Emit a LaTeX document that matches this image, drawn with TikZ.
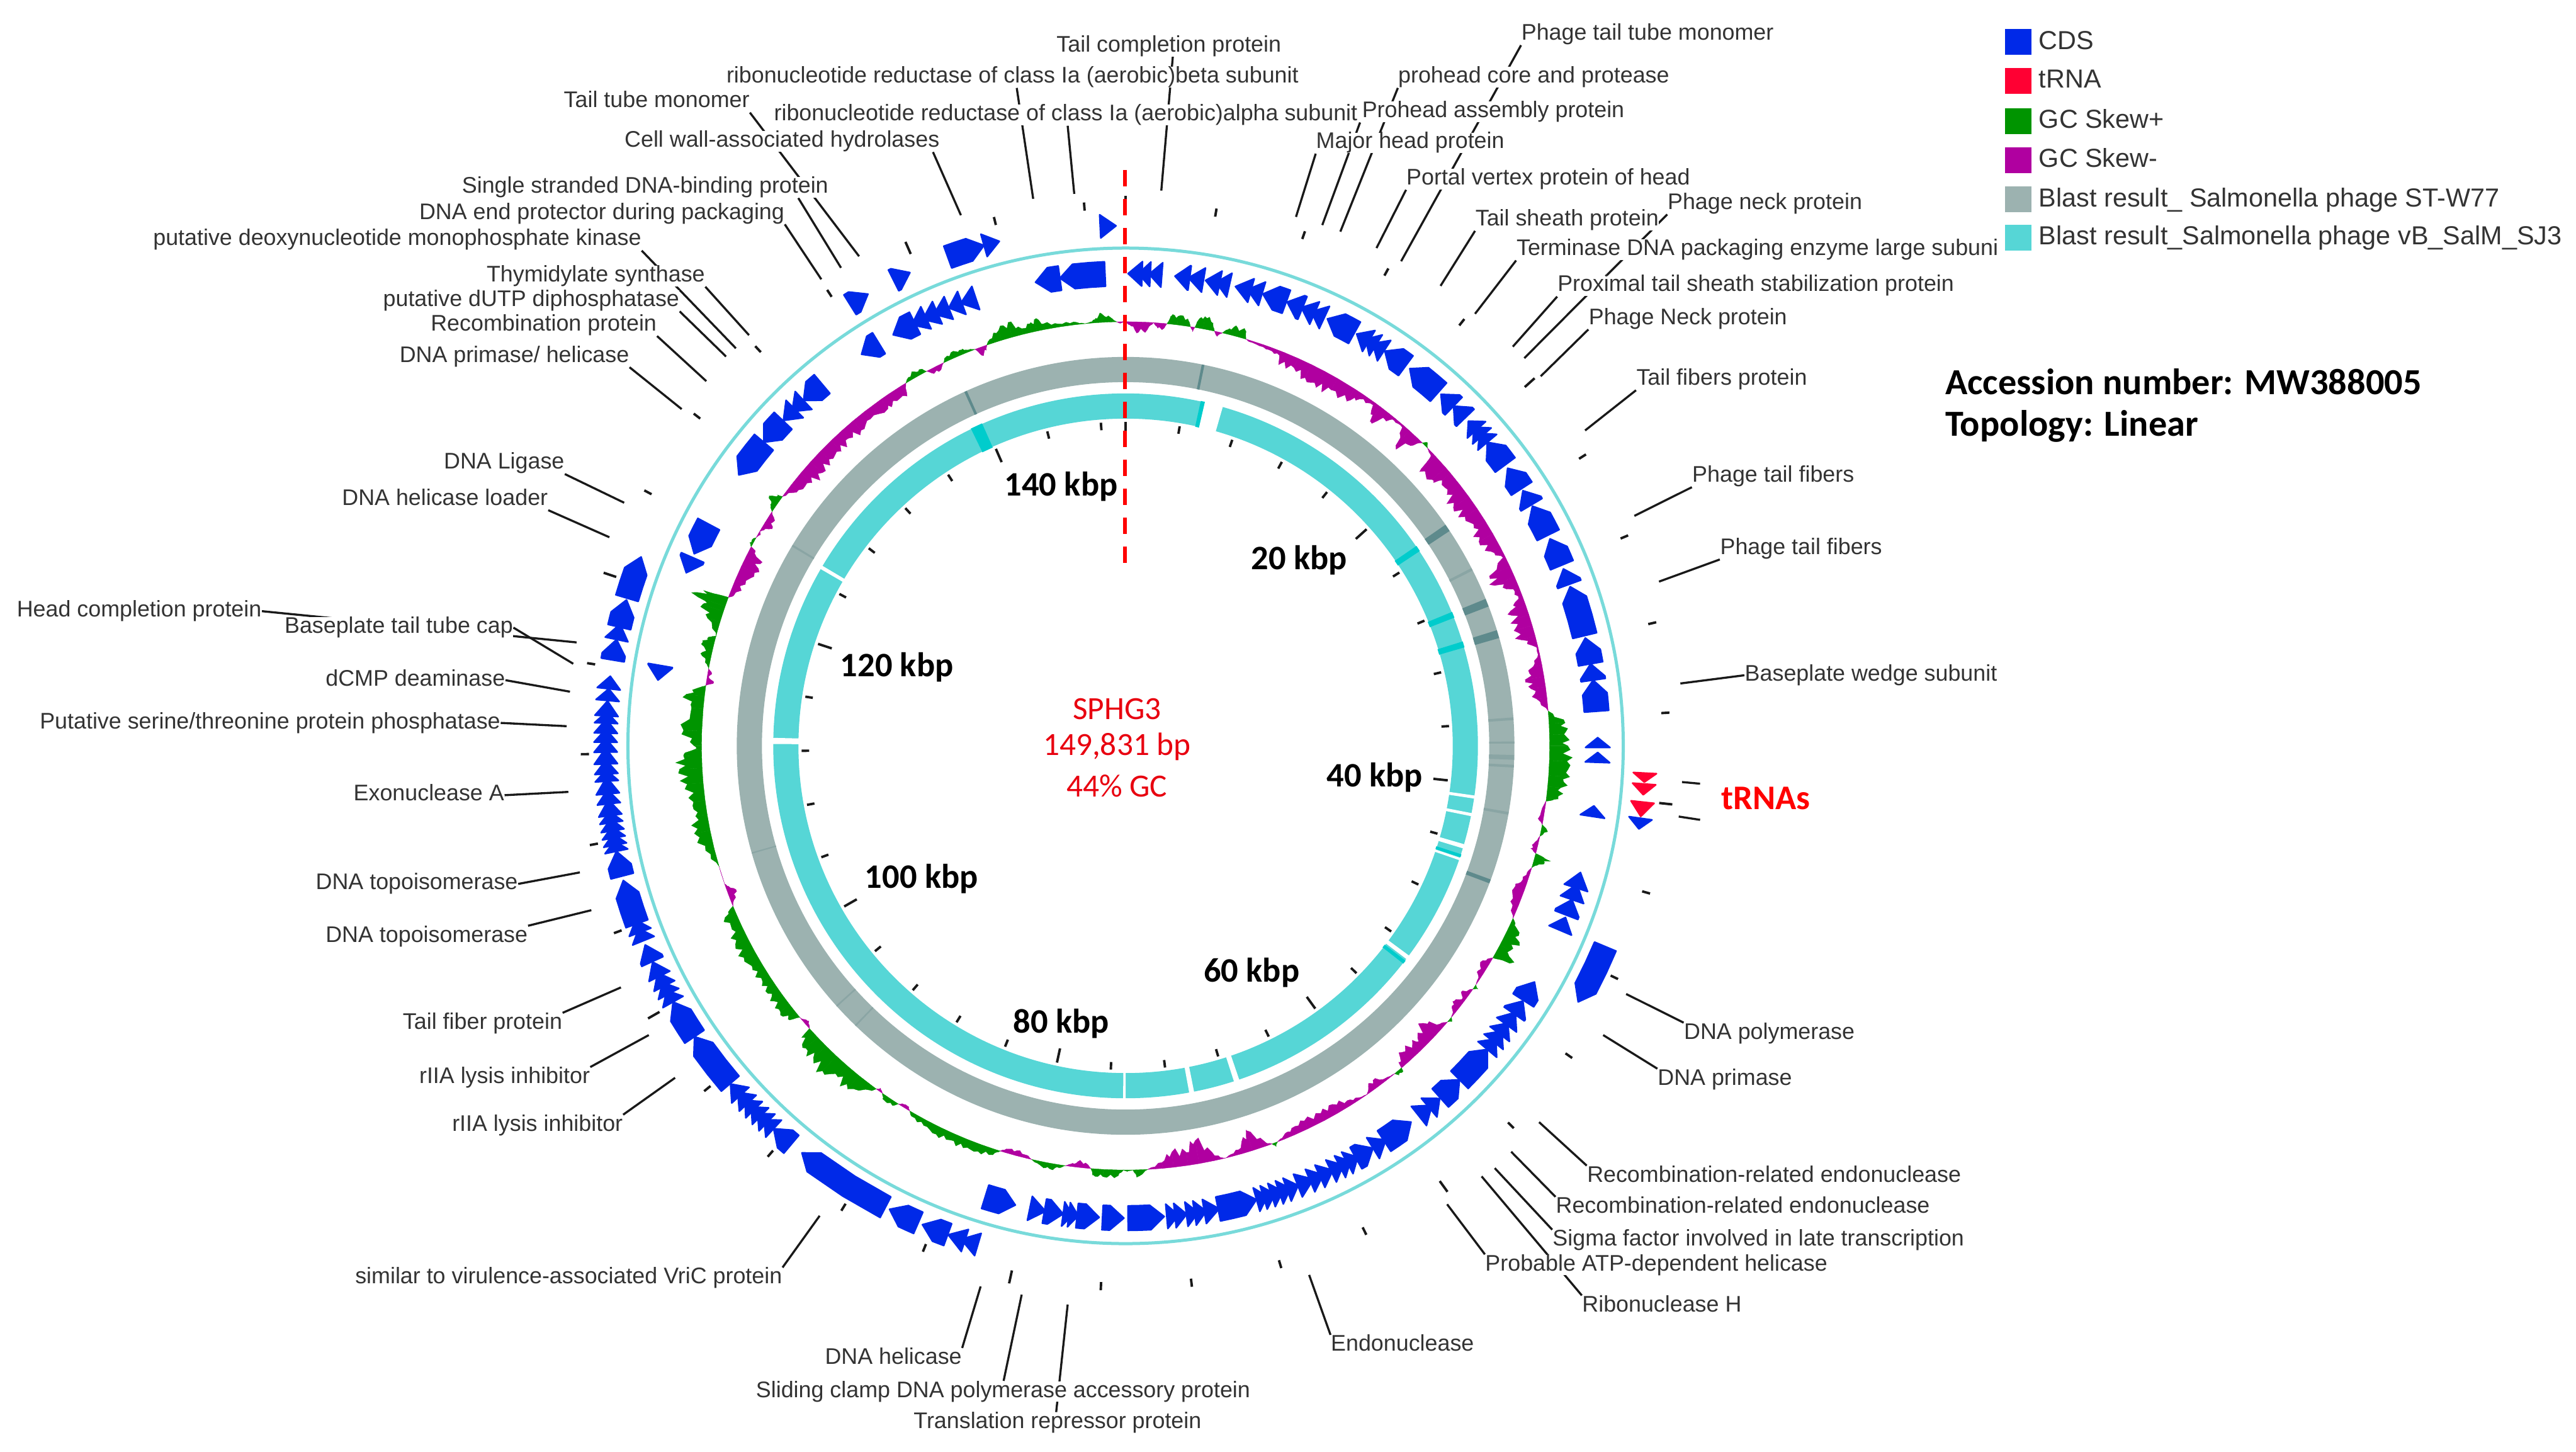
\documentclass[tikz,border=0pt]{standalone}
\usepackage{fontspec}
\setmainfont{Liberation Sans}
\newfontfamily\carl{Carlito}
\usetikzlibrary{backgrounds}
\definecolor{cdsblue}{HTML}{0029E8}
\definecolor{trnared}{HTML}{FF0033}
\definecolor{skewplus}{HTML}{009400}
\definecolor{skewminus}{HTML}{B000A0}
\definecolor{ringgrey}{HTML}{9CB2B0}
\definecolor{ringcyan}{HTML}{56D6D6}
\definecolor{thincyan}{HTML}{78DADA}
\definecolor{darkcyan}{HTML}{00CCCC}
\definecolor{darkgrey}{HTML}{5E8A8C}
\definecolor{fadegrey}{HTML}{8AA5A4}
\definecolor{labgrey}{HTML}{333333}
\definecolor{centerred}{HTML}{E8000F}
\tikzset{
  lab/.style={anchor=west,inner sep=0pt,fill=white,text=labgrey,text height=7.2pt,text depth=2.1pt,font=\fontsize{10.2}{12}\selectfont},
  leg/.style={anchor=west,inner sep=0pt,text=labgrey,text height=8.6pt,text depth=2.6pt,font=\fontsize{11.78}{14}\selectfont},
  legsq/.style={minimum width=.42cm,minimum height=.41cm,inner sep=0pt,anchor=west},
  kbp/.style={inner sep=0pt,font=\carl\bfseries\fontsize{15.5}{18}\selectfont},
  mid/.style={inner sep=0pt,text=centerred,font=\carl\fontsize{14.6}{17}\selectfont},
  acc/.style={anchor=west,inner sep=0pt,font=\carl\bfseries\fontsize{16.6}{19}\selectfont},
  leader/.style={draw=black!90,line width=.95pt},
  tick/.style={draw=black!90,line width=1.1pt},
}
\def\gXtra{.45}
% a gene arrow, angles clockwise from the top: a1 a2 rin rout dir colour
\newcommand\gene[6]{%
  \pgfmathsetmacro\gLn{#2-#1}%
  \pgfmathsetmacro\gHd{min(1.7,\gLn)}%
  \pgfmathsetmacro\gEx{\gLn<1.7?\gXtra:0}%
  \pgfmathsetmacro\gRm{(#3+#4)/2}%
  \pgfmathsetmacro\gTl{#5>0?#1:#2}%
  \pgfmathsetmacro\gAp{#5>0?#2:#1}%
  \pgfmathsetmacro\gSh{\gAp-(#5)*\gHd}%
  \pgfmathsetmacro\gMd{(\gTl+\gSh)/2}%
  \pgfmathsetmacro\gTp{\gAp+(#5)*\gEx}%
  \filldraw[#6,line width=.7pt,line join=round] ({90-\gTl}:#3) -- ({90-\gMd}:#3) -- ({90-\gSh}:#3) -- ({90-\gTp}:\gRm)
     -- ({90-\gSh}:#4) -- ({90-\gMd}:#4) -- ({90-\gTl}:#4) -- cycle;
}
\newcommand\gi[2]{\gene{#1}{#2}{731}{770}{-1}{cdsblue}}
\newcommand\gou[2]{\gene{#1}{#2}{808}{845}{1}{cdsblue}}
\newcommand\band[5]{\fill[#5] ({90-(#1)}:#3) -- ({90-(#2)}:#3) -- ({90-(#2)}:#4) -- ({90-(#1)}:#4) -- cycle;}
% label with a leader to a node corner
\newcommand\ldr[4]{\coordinate (#1) at (#2,#3); \draw[leader] (#1) -- (#4);}
\newcommand\ldx[5]{\coordinate (#1) at (#2,#3); \draw[leader] (#1) -- (#5,0 |- #4);}
\begin{document}
\begin{tikzpicture}
\useasboundingbox (0,0) rectangle (40.92,-23.05);
%--------------- circular map, in reference pixels
\begin{scope}[shift={(17.88,-11.845)},x=.01cm,y=.01cm]
  % blast rings
  \draw[ringgrey,line width=.4cm] (0,0) circle (598);
  \draw[ringcyan,line width=.4cm] (0,0) circle (540);
  \foreach \a/\w in {63/.2,86/.2,89.5/.15,93/.2,100/.2,91.7/.35,254/.1,228/.12,224/.12,301/.15}
    {\band{\a-\w}{\a+\w}{578}{618}{fadegrey}}
  \foreach \a/\w in {11.5/.2,55.9/.55,68.4/.6,73.3/.6,110.4/.3,335.7/.2}
    {\band{\a-\w}{\a+\w}{578}{618}{darkgrey}}
  \foreach \a/\b in {12.3/13,55.5/56.5,67.7/68.7,72.8/73.8,334/336,107.9/108.4,127.5/128.1}
    {\band{\a}{\b}{519}{561}{darkcyan}}
  \foreach \a/\b in {13/16,98.1/98.6,101/101.5,106.2/106.9,108.5/108.9,126.5/127.2,161.2/162.1,168.8/169.6,180/180.4,270.3/271.3,300.1/300.7}
    {\band{\a}{\b}{518}{562}{white}}
  % thin circle
  \draw[thincyan,line width=.05cm] (0,0) circle (791);
  % GC skew
  \gdef\pa{0}\gdef\ph{0}
  \foreach \a/\h in {0/0,.8/-6,1.8/-14,3/-10,3.8/0,4.4/-7,5.2/-7,5.6/0,6/10,7/12,8.3/10,8.8/0,9.2/-6,9.4/0,9.6/8,10.5/17,11.7/10,12.1/0,12.6/-6,13.2/0,14/8,15/12,16.2/10,16.5/0,17/-2,19/-3,20/-4,21.5/-6,22/-17,24/-14,26/-20,28/-25,30/-18,32.7/-20,34/-8,36/-4,37/-24,38.5/-10,39.5/-3,41/-3,42/-28,43.5/-14,44.4/0,44.9/5,45.4/0,46.5/-4,47/-30,49/-25,50/-15,52/-22,54/-26,56/-20,58/-18,60/-22,62/-14,63.5/-3,65/-31,66.5/-30,68/-8,69.5/-6,70.7/-22,72/-20,73.5/-26,75/-20,76.5/-2,77.5/-2,79/-12,80.6/-26,82/-20,83.5/-14,85.3/0,87/22,88.5/20,90/25,92/24,94/29,95.5/18,97/16,97.5/0,98/-2,100/-7,100.7/0,101.5/9,102.3/0,103.5/-6,104.2/-8,104.7/0,105.2/22,106/8,106.7/0,107.5/-4,109/-8,110/-14,112/-12,113.5/-3,114/0,115/10,116.5/22,118/16,119.5/24,120/0,121/-10,122.5/-8,123.5/-2,124.3/0,124.6/5,125/0,126/-10,127/-4,128/-12,129/-4,129.8/0,130.2/4,130.6/0,131.5/-6,133/-24,135/-15,136/-15,138/-16,139.2/-8,139.4/0,139.6/5,140.3/5,140.6/0,142/-3,143.5/-11,144.5/-8,145.3/0,146.5/-3,148/-8,150/-14,152/-11,154.5/-12,156.5/-10,158/-4,159/0,159.4/5,159.8/0,160.5/-4,162.6/-29,164/-8,165.5/-3,166.3/0,167/-2,168/-12,170/-32,171.5/-18,173.5/-21,175/-8,177/0,178.5/10,179/0,179.8/2,180.3/0,181/8,183/10,184.4/8,184.7/0,185.5/-7,186.5/-8,187.5/-3,188.2/0,189/4,190/8,191/8,192.8/0,193.5/-4,195/-7,196.5/-5,197.2/0,198/8,200/10,202/13,204/10,206/11,208/8,210/5,210.6/0,211/-4,212/-3,212.4/0,213/6,214.5/6,215/0,215.6/-4,216/0,216.5/6,219/24,221/20,223/28,225/24,226.6/22,228/16,228.2/0,229/-6,229.8/-1,230.2/0,231/14,232.4/16,234/14,235.3/15,237/12,239/15,241/17,243/19,245/14,246.8/16,247.8/0,248.5/-4,249.5/-12,250.5/-4,251/0,253.5/0,256/12,258.5/22,260.7/16,262.6/16,265/22,267/31,268.7/25,269.5/10,270/10,272/25,275/16,276.7/25,278/4,278.2/0,278.7/-10,279.4/-2,280/-5,280.5/0,281/3,282/12,283/10,284/16,284.8/5,285/0,285.5/2,287/18,288.5/30,289.2/40,290.2/35,290.5/0,291/-6,293/-15,295/-20,296.5/-22,297.7/-8,298/0,298.4/4,299/3,299.4/0,300/-3,300.4/0,300.8/-4,301.8/-12,303/-6,303.5/0,304/5,304.8/14,305.8/6,306/0,306.5/-3,308/-12,310/-20,312/-22,314/-16,316/-20,318/-14,320/-17,322/-13,324.8/-16,326/-11,328/-16,328.8/0,329.5/5,330.5/8,331.5/6,332/0,332.5/-5,333.5/-8,334.2/-3,334.6/0,335/5,336.4/9,337.5/6,338/4,339.2/0,339.8/-11,340.6/-6,340.9/0,341.5/6,343/14,344.5/21,346/8,347.2/12,347.9/16,349/8,351/4,353/4,354.5/0,355.5/2,356/6,356.8/12,358/6,358.8/0,359.3/-2,360/0}{%
    \pgfmathsetmacro\sA{\a}\pgfmathsetmacro\sH{1.15*\h}%
    \pgfmathtruncatemacro\sC{(\sH+\ph>0)?1:0}%
    % three jagged points between two read values
    \pgfmathsetmacro\sAa{\pa+.25*(\sA-\pa)}\pgfmathsetmacro\sAb{\pa+.5*(\sA-\pa)}\pgfmathsetmacro\sAc{\pa+.75*(\sA-\pa)}%
    \pgfmathsetmacro\sHa{(.75*\ph+.25*\sH)*(1+.3*sin(mod(\sAa*10,12)*30))}%
    \pgfmathsetmacro\sHb{(.5*\ph+.5*\sH)*(1+.3*sin(mod(\sAb*10,12)*30))}%
    \pgfmathsetmacro\sHc{(.25*\ph+.75*\sH)*(1+.3*sin(mod(\sAc*10,12)*30))}%
    \ifnum\sC=1 \def\sCol{skewplus}\else\def\sCol{skewminus}\fi
    \filldraw[\sCol,line width=.12pt] ({90-\pa}:674) -- ({90-\pa}:{674+\ph}) -- ({90-\sAa}:{674+\sHa}) -- ({90-\sAb}:{674+\sHb}) -- ({90-\sAc}:{674+\sHc})
       -- ({90-\sA}:{674+\sH}) -- ({90-\sA}:674) -- cycle;
    \global\let\pa\sA\global\let\ph\sH
  }
  % inner CDS track
  \foreach \a/\b in {.3/2,2/3,3.3/4.4,6/7.8,8.1/9.5,10.2/11.5,11.5/12.7,13.9/15.4,15.4/16.8,16.9/19.9,20/22,22.3/23.6,23.6/24.9,25.3/29,29.3/31,31/32,32/33.2,33.3/36.4,37/41.5,41.9/44,44/46,47/48,48/49,49/50,50/53.5,54/57,57.3/59.3,59.5/63.5,64/67.5,68/70,70.3/76.5,76.8/80,80/82,82/85.8,106/107.5,107.5/109,109/111,111.3/113,120/122.6,122.7/124.6,124.8/126.2,126.4/127.6,127.6/128.8,128.8/130,130/135,135/138.2,138.3/140,140/141.6,142.8/146.8,147/148.4,148.4/150.8,151/152,152/153,153/154.2,154.4/155.7,155.7/157,157/158.6,159/160,160/161,161/162,162/163,163/163.9,163.9/168.7,169/170.4,170.6/171.6,171.6/172.6,173/174,174/175,175.3/179.7,180.2/182.8,183.2/185.9,186.2/186.9,186.9/187.6,187.6/189.9,190.2/191.7,193.5/197.3,291.5/293.5,294/298,305/310,310/313.5,314/315.5,315.5/317,317/320,326/328.5,330.5/333.5,333.5/335,335/336.5,336.5/338,338/339.7,340/341.5,349/352,352/357.5}{\gi{\a}{\b}}
  \foreach \a/\b in {89/90.2,90.8/92,97.3/98.6,278/279.8}{\def\gXtra{0}\gi{\a}{\b}}
  % outer CDS track
  \foreach \a/\b in {112.7/119.5,196.5/198,198/199.5,200/203,203.5/207,207.5/218.5,220/222.6,222.6/223.6,223.6/224.6,224.6/225.6,225.6/226.6,226.6/227.8,227.8/229,229.5/236,236/240.5,240.5/241.5,241.5/242.5,242.5/243.7,243.7/245,245.5/247.5,248/249,249/250,250/255,255.5/258.3,258.3/259,259/259.8,259.8/260.6,260.6/261.5,261.5/262.3,262.3/263.6,263.6/264.7,264.7/266.1,266.1/266.9,266.9/268,268/269.3,269.3/270.4,270.4/271.4,271.4/272.5,272.5/273.3,273.3/274.5,279.5/281.8,281.8/283.1,283.2/286.3,286.5/291.3,328/330.3,333.5/335.5,340/344.2,344.2/345.5,357.2/358.5}{\gou{\a}{\b}}
  \foreach \a/\b in {98/99.2,275/276.3,276.3/277.7}{\def\gXtra{0}\gou{\a}{\b}}
  \foreach \a/\b in {93/94,94.2/95.4,96.2/97.8}{\def\gXtra{0}\gene{\a}{\b}{808}{845}{1}{trnared}}
  % ticks, every 4 kbp
  \foreach \k in {0,...,37}{%
    \pgfmathsetmacro\tA{\k*9.6114}%
    \pgfmathtruncatemacro\tM{mod(\k,5)}%
    \ifnum\tM=0
      \draw[tick] ({90-\tA}:492) -- ({90-\tA}:515);
      \draw[tick] ({90-\tA}:853) -- ({90-\tA}:874);
    \else
      \draw[tick] ({90-\tA}:503) -- ({90-\tA}:515);
      \draw[tick] ({90-\tA}:853) -- ({90-\tA}:866);
    \fi
  }
\end{scope}
%--------------- everything else, in units of 1/2.6097 reference pixel
\begin{scope}[x=.026097cm,y=-.026097cm,yshift=-.026cm]
  \coordinate (dashA) at (685,102.5);
  \coordinate (dashB) at (685,349);
  \draw[red,line width=1.7pt,dash pattern=on .26cm off .2cm] (dashA) -- (dashB);
  % labels
  \node[lab] (tc) at (643,27) {Tail completion protein};
  \node[lab] (rb) at (442,46) {ribonucleotide reductase of class Ia (aerobic)beta subunit};
  \node[lab] (ra) at (471,69) {ribonucleotide reductase of class Ia (aerobic)alpha subunit};
  \node[lab] (ttm) at (343,61) {Tail tube monomer};
  \node[lab] (cw) at (380,85) {Cell wall-associated hydrolases};
  \node[lab] (ss) at (281,113) {Single stranded DNA-binding protein};
  \node[lab] (de) at (255,129) {DNA end protector during packaging};
  \node[lab] (pk) at (93,145) {putative deoxynucleotide monophosphate kinase};
  \node[lab] (tsy) at (296,167) {Thymidylate synthase};
  \node[lab] (du) at (233,182) {putative dUTP diphosphatase};
  \node[lab] (rp) at (262,197) {Recombination protein};
  \node[lab] (dp) at (243,216) {DNA primase/ helicase};
  \node[lab] (dl) at (270,281) {DNA Ligase};
  \node[lab] (dhl) at (208,303) {DNA helicase loader};
  \node[lab] (hc) at (10,371) {Head completion protein};
  \node[lab] (bt) at (173,381) {Baseplate tail tube cap};
  \node[lab] (dc) at (198,413) {dCMP deaminase};
  \node[lab] (ps) at (24,439) {Putative serine/threonine protein phosphatase};
  \node[lab] (ex) at (215,483) {Exonuclease A};
  \node[lab] (toa) at (192,537) {DNA topoisomerase};
  \node[lab] (tob) at (198,569) {DNA topoisomerase};
  \node[lab] (tfb) at (245,622) {Tail fiber protein};
  \node[lab] (ra1) at (255,655) {rIIA lysis inhibitor};
  \node[lab] (ra2) at (275,684) {rIIA lysis inhibitor};
  \node[lab] (vr) at (216,777) {similar to virulence-associated VriC protein};
  \node[lab] (dhc) at (502,826) {DNA helicase};
  \node[lab] (sc) at (460,846) {Sliding clamp DNA polymerase accessory protein};
  \node[lab] (trp) at (556,865) {Translation repressor protein};
  \node[lab] (en) at (810,818) {Endonuclease};
  \node[lab] (rh) at (963,794) {Ribonuclease H};
  \node[lab] (atp) at (904,769) {Probable ATP-dependent helicase};
  \node[lab] (sf) at (945,754) {Sigma factor involved in late transcription};
  \node[lab] (re2) at (947,734) {Recombination-related endonuclease};
  \node[lab] (re1) at (966,715) {Recombination-related endonuclease};
  \node[lab] (dpr) at (1009,656) {DNA primase};
  \node[lab] (dpo) at (1025,628) {DNA polymerase};
  \node[lab] (bw) at (1062,410) {Baseplate wedge subunit};
  \node[lab] (tf2) at (1047,333) {Phage tail fibers};
  \node[lab] (tf1) at (1030,289) {Phage tail fibers};
  \node[lab] (tfp) at (996,230) {Tail fibers protein};
  \node[lab] (pnb) at (967,193) {Phage Neck protein};
  \node[lab] (px) at (948,173) {Proximal tail sheath stabilization protein};
  \node[lab] (tm) at (923,151) {Terminase DNA packaging enzyme large subuni};
  \node[lab] (tsh) at (898,133) {Tail sheath protein};
  \node[lab] (pna) at (1015,123) {Phage neck protein};
  \node[lab] (pv) at (856,108) {Portal vertex protein of head};
  \node[lab] (mh) at (801,86) {Major head protein};
  \node[lab] (pas) at (829,67) {Prohead assembly protein};
  \node[lab] (pco) at (851,46) {prohead core and protease};
  \node[lab] (ptt) at (926,20) {Phage tail tube monomer};
  % leaders under the labels
  \begin{scope}[on background layer]
    \ldx{q1}{707}{115}{tc.south}{714}
    \ldx{q2}{629}{120}{rb.south}{619}
    \ldx{q3}{654}{117}{ra.south}{650}
    \ldr{q4}{523}{155}{ttm.south east}
    \ldx{q5}{585}{130}{cw.south}{568}
    \ldx{q6}{512}{162}{ss.south}{486}
    \ldr{q7}{500}{169}{de.south east}
    \ldr{q8}{448}{211}{pk.south east}
    \ldr{q9}{456}{203}{tsy.south east}
    \ldr{q10}{442}{216}{du.south east}
    \ldr{q11}{430}{231}{rp.south east}
    \ldr{q12}{415}{248}{dp.south east}
    \ldr{q13}{380}{305}{dl.south east}
    \ldr{q14}{371}{326}{dhl.south east}
    \ldr{q15}{351}{390}{hc.east}
    \ldr{q16}{349}{403}{bt.east}
    \ldr{q17}{347}{420}{dc.east}
    \ldr{q18}{345}{441}{ps.east}
    \ldr{q19}{346}{481}{ex.east}
    \ldr{q20}{353}{530}{toa.east}
    \ldr{q21}{360}{553}{tob.north east}
    \ldr{q22}{378}{600}{tfb.north east}
    \ldr{q23}{395}{629}{ra1.north east}
    \ldr{q24}{411}{655}{ra2.north east}
    \ldr{q25}{499}{739}{vr.north east}
    \ldr{q26}{597}{782}{dhc.north east}
    \ldx{q27}{622}{787}{sc.north}{611}
    \ldx{q28}{650}{793}{trp.north}{643}
    \ldr{q29}{797}{775}{en.north west}
    \ldr{q30}{902}{715}{rh.north west}
    \ldr{q31}{881}{732}{atp.north west}
    \ldr{q32}{910}{710}{sf.north west}
    \ldr{q33}{920}{700}{re2.north west}
    \ldr{q34}{937}{682}{re1.north west}
    \ldr{q35}{976}{629}{dpr.north west}
    \ldr{q36}{990}{604}{dpo.north west}
    \ldr{q37}{1023}{415}{bw.west}
    \ldr{q38}{1010}{353}{tf2.south west}
    \ldr{q39}{995}{313}{tf1.south west}
    \ldr{q40}{965}{261}{tfp.south west}
    \ldr{q41}{938}{228}{pnb.south west}
    \ldr{q42}{921}{210}{px.south west}
    \ldr{q43}{928}{217}{pna.south west}
    \ldr{q44}{898}{190}{tm.south west}
    \ldr{q45}{877}{173}{tsh.south west}
    \ldr{q46}{838}{150}{pv.south west}
    \ldr{q47}{789}{131}{mh.south west}
    \ldx{q48}{805}{136}{pas.south}{828}
    \ldr{q49}{816}{140}{pco.south west}
    \ldr{q50}{853}{158}{ptt.south west}
  \end{scope}
  % tRNA
  \node[inner sep=0pt,text=red,font=\carl\bfseries\fontsize{15.6}{18}\selectfont] (trnas) at (1075,485) {tRNAs};
  \coordinate (ta1) at (1024,475); \coordinate (ta2) at (1035,476);
  \coordinate (tb1) at (1022,496); \coordinate (tb2) at (1035,498);
  \draw[leader] (ta1) -- (ta2);
  \draw[leader] (tb1) -- (tb2);
  % kbp labels
  \node[kbp] (k140) at (646,295) {140 kbp};
  \node[kbp] (k20) at (791,340) {20 kbp};
  \node[kbp] (k120) at (546,405) {120 kbp};
  \node[kbp] (k40) at (837,472) {40 kbp};
  \node[kbp] (k100) at (561,534) {100 kbp};
  \node[kbp] (k60) at (762,591) {60 kbp};
  \node[kbp] (k80) at (646,622) {80 kbp};
  % centre
  \node[mid] (c1) at (680,430.5) {SPHG3};
  \node[mid] (c2) at (680,453.5) {149,831 bp};
  \node[mid] (c3) at (680,477.5) {44\% GC};
  % accession
  \node[acc] (a1) at (1184,231.5) {Accession number: MW388005};
  \node[acc] (a2) at (1184,258.5) {Topology: Linear};
  % legend
  \foreach \n/\y/\c/\t in {1/25.6/cdsblue/CDS,2/49.1/trnared/tRNA,3/73.6/skewplus/GC Skew+,4/97.4/skewminus/GC Skew-,5/121.3/ringgrey/Blast result\_ Salmonella phage ST-W77,6/144.6/ringcyan/Blast result\_Salmonella phage vB\_SalM\_SJ3}{
    \node[legsq,fill=\c] (sq\n) at (1220.4,\y-1) {};
    \node[leg] (tx\n) at (1241,\y-.6) {\t};
  }
\end{scope}
\end{tikzpicture}
\end{document}
